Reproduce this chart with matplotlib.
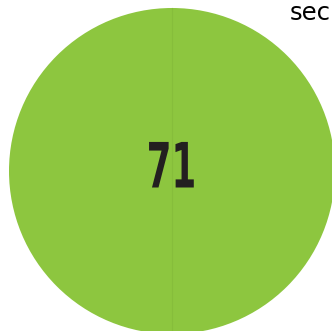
import matplotlib
matplotlib.use('Agg')
import matplotlib.pyplot as plt
import matplotlib.patheffects as pe
from matplotlib.patches import Circle
from matplotlib.transforms import Affine2D

# timer readout
value = 71
unit = 'sec'

green = '#8dc63f'
ink = '#231f20'


class Squeeze(pe.AbstractPathEffect):
    """Narrow the glyphs horizontally around x0 (display pixels)."""
    def __init__(self, sx, x0):
        super().__init__()
        self.sx = sx
        self.x0 = x0

    def draw_path(self, renderer, gc, tpath, affine, rgbFace=None):
        squeeze = Affine2D().translate(-self.x0, 0).scale(self.sx, 1).translate(self.x0, 0)
        renderer.draw_path(gc, tpath, affine + squeeze, rgbFace)


fig = plt.figure(figsize=(3.32, 3.31), dpi=100)
ax = fig.add_axes([0, 0, 1, 1])
ax.set_xlim(0, 332)
ax.set_ylim(331, 0)
ax.set_aspect('equal')
ax.axis('off')

cx, cy, r = 172, 171, 163
ax.add_patch(Circle((cx, cy), r, facecolor=green, edgecolor='none'))
ax.plot([cx, cx], [cy - r, cy + r], color='#86bd3b', lw=0.8)

x0 = ax.transData.transform((cx, 0))[0]
ax.text(cx - 1, 187.5, str(value), ha='center', va='baseline', color=ink,
        fontsize=45, fontweight='bold', family='DejaVu Sans',
        path_effects=[Squeeze(0.57, x0)])
ax.text(331, 1.5, unit, ha='right', va='top', color='black',
        fontsize=17.5, family='DejaVu Sans')

fig.savefig('out.png', dpi=100)
